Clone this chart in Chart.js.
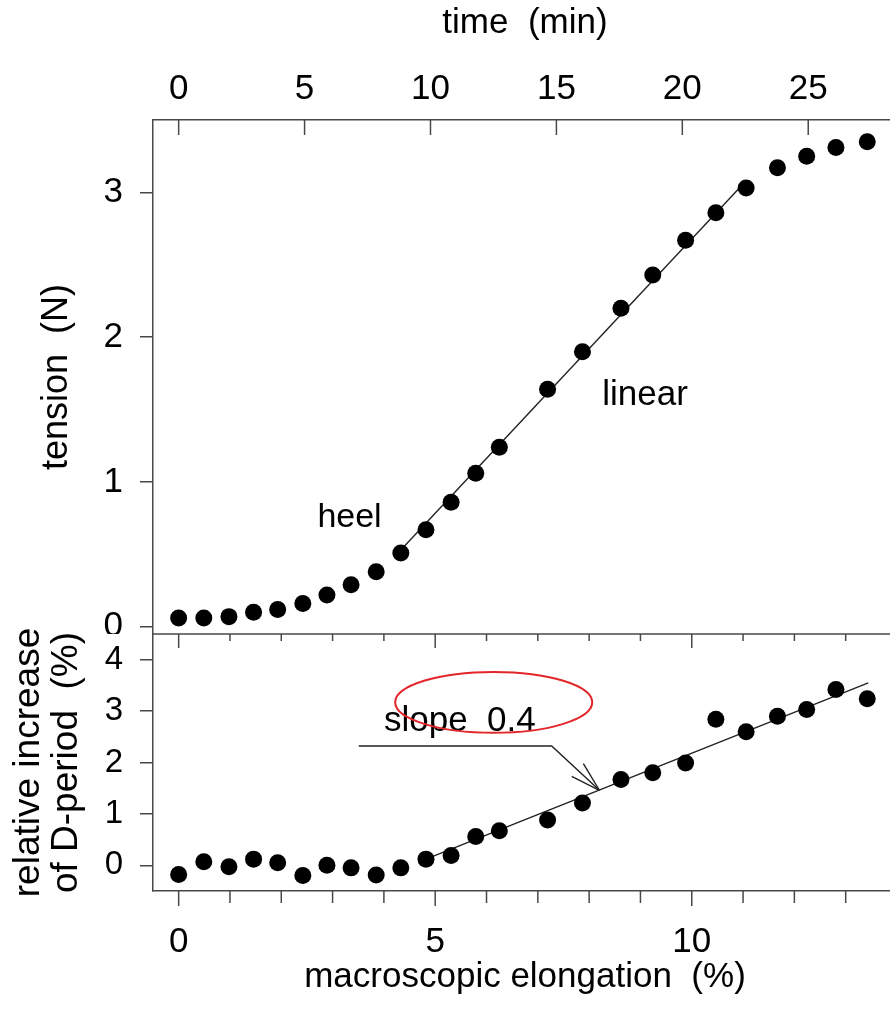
<!DOCTYPE html>
<html lang="fr">
<head>
<meta charset="utf-8">
<title>Tension et période D</title>
<script src="https://cdn.jsdelivr.net/npm/chart.js@4.4.1/dist/chart.umd.min.js"></script>
<style>
  html, body { margin: 0; padding: 0; background: #fff; overflow: hidden; }
  body { width: 890px; height: 1010px; position: relative; }
  .panneau { position: absolute; left: 0; width: 900px; }
  #haut { top: 0; height: 634px; }
  #bas { top: 620px; height: 390px; }
</style>
</head>
<body>
<div class="panneau" id="haut"><canvas id="graphHaut"></canvas></div>
<div class="panneau" id="bas"><canvas id="graphBas"></canvas></div>
<script>
// Données (allongement commun aux deux panneaux)
var elongation = [0, 0.49, 0.98, 1.46, 1.93, 2.42, 2.89, 3.36, 3.85, 4.33, 4.82, 5.31, 5.79,
                  6.25, 7.19, 7.87, 8.62, 9.24, 9.88, 10.47, 11.06, 11.67, 12.24, 12.81, 13.42];
var tension = [0.06, 0.06, 0.07, 0.10, 0.12, 0.16, 0.22, 0.29, 0.38, 0.51, 0.67, 0.86, 1.06,
               1.24, 1.64, 1.90, 2.20, 2.43, 2.67, 2.86, 3.03, 3.17, 3.25, 3.31, 3.35];
var periodeD = [-0.18, 0.07, -0.03, 0.12, 0.05, -0.20, 0.00, -0.05, -0.19, -0.05, 0.12, 0.19, 0.56,
                0.67, 0.88, 1.21, 1.67, 1.80, 1.99, 2.84, 2.60, 2.90, 3.03, 3.42, 3.24];

// Droites d'ajustement (extrémités)
var ajustTensionX = [4.33, 11.06];
var ajustTensionY = [0.53, 3.08];
var ajustPeriodeX = [4.82, 13.44];
var ajustPeriodeY = [0.12, 3.55];

// Graduations
var ticksTemps = [0, 5, 10, 15, 20, 25];
var ticksTension = [0, 1, 2, 3];
var ticksPeriode = [0, 1, 2, 3, 4];
var ticksElong = [0, 5, 10];
var pctParMinute = 0.4908;   // allongement (%) par minute

var couleurAxe = '#484848';
var police = "'Liberation Sans', Arial, sans-serif";

function points(xs, ys) {
    return xs.map((x, i) => ({x: x, y: ys[i]}));
}

// Enlève les marges automatiques que Chart.js ajoute pour les étiquettes
function sansMarge(s) {
    s.paddingTop = 0; s.paddingBottom = 0; s.paddingLeft = 0; s.paddingRight = 0;
}

//Petits traits de graduation vers l'intérieur / l'extérieur
var graduations = {
    id: 'graduations',
    afterDraw: function(chart) {
        var reglages = chart.options.plugins.graduations;
        if (!reglages) return;
        var ctx = chart.ctx;
        var zone = chart.chartArea;
        ctx.save();
        ctx.strokeStyle = couleurAxe;
        ctx.lineWidth = 1.5;
        reglages.forEach(r => {
            var echelle = chart.scales[r.axe];
            var y0 = r.bord == 'haut' ? zone.top : zone.bottom;
            if (r.ligne) {
                ctx.beginPath();
                ctx.moveTo(zone.left, y0);
                ctx.lineTo(zone.right, y0);
                ctx.stroke();
            }
            echelle.ticks.forEach(t => {
                var px = echelle.getPixelForValue(t.value);
                var l = (t.value % 5 == 0) ? r.grand : r.petit;
                ctx.beginPath();
                ctx.moveTo(px, y0);
                ctx.lineTo(px, y0 + l);
                ctx.stroke();
            });
        });
        ctx.restore();
    }
};

// Textes, flèche et ellipse rouge
var notes = {
    id: 'notes',
    afterDatasetsDraw: function(chart) {
        var liste = chart.options.plugins.notes;
        if (!liste) return;
        var ctx = chart.ctx;
        var sx = chart.scales.x, sy = chart.scales.y;
        ctx.save();
        liste.forEach(n => {
            if (n.texte) {
                ctx.font = n.taille + 'px ' + police;
                ctx.fillStyle = '#000';
                ctx.textAlign = 'center';
                ctx.textBaseline = 'alphabetic';
                ctx.fillText(n.texte, sx.getPixelForValue(n.x), sy.getPixelForValue(n.y));
            }
            if (n.trace) {
                var pts = n.trace.map(p => [sx.getPixelForValue(p[0]), sy.getPixelForValue(p[1])]);
                ctx.strokeStyle = '#222';
                ctx.lineWidth = 1.4;
                ctx.beginPath();
                pts.forEach((p, i) => i ? ctx.lineTo(p[0], p[1]) : ctx.moveTo(p[0], p[1]));
                ctx.stroke();
                // pointe ouverte
                var a = pts[pts.length - 1], b = pts[pts.length - 2];
                var ang = Math.atan2(b[1] - a[1], b[0] - a[0]);
                [-0.28, 0.28].forEach(d => {
                    ctx.beginPath();
                    ctx.moveTo(a[0], a[1]);
                    ctx.lineTo(a[0] + 31 * Math.cos(ang + d), a[1] + 31 * Math.sin(ang + d));
                    ctx.stroke();
                });
            }
            if (n.ellipse) {
                var cx = sx.getPixelForValue(n.x), cy = sy.getPixelForValue(n.y);
                var rx = Math.abs(sx.getPixelForValue(n.x + n.rx) - cx);
                var ry = Math.abs(sy.getPixelForValue(n.y + n.ry) - cy);
                ctx.strokeStyle = '#e3262a';
                ctx.lineWidth = 2;
                ctx.beginPath();
                ctx.ellipse(cx, cy, rx, ry, 0, 0, 2 * Math.PI);
                ctx.stroke();
            }
        });
        ctx.restore();
    }
};

document.addEventListener("DOMContentLoaded", function() {

    Chart.defaults.font.family = police;
    Chart.defaults.color = '#000';

    var nuage = {
        xAxisID: 'x', yAxisID: 'y',
        pointRadius: 8.5, pointBackgroundColor: '#000', pointBorderWidth: 0,
        showLine: false, order: 0
    };
    var droite = {
        xAxisID: 'x', yAxisID: 'y',
        showLine: true, pointRadius: 0, borderColor: '#222', borderWidth: 1.4,
        fill: false, order: 1
    };

    // Panneau du haut : tension
    new Chart(document.getElementById('graphHaut'), {
        type: 'scatter',
        data: {
            datasets: [
                Object.assign({data: points(elongation, tension)}, nuage),
                Object.assign({data: points(ajustTensionX, ajustTensionY)}, droite)
            ]
        },
        options: {
            responsive: true, maintainAspectRatio: false, animation: false, events: [],
            layout: {autoPadding: false, padding: {left: 0, right: 3, top: 0, bottom: 0}},
            plugins: {
                legend: {display: false},
                tooltip: {enabled: false},
                graduations: [{axe: 'xt', bord: 'haut', grand: 15, petit: 15}],
                notes: [
                    {texte: 'heel', x: 3.33, y: 0.69, taille: 34},
                    {texte: 'linear', x: 9.09, y: 1.53, taille: 35}
                ]
            },
            scales: {
                x: {type: 'linear', display: false, min: -0.5, max: 14},
                xt: {
                    type: 'linear', position: 'top',
                    min: -0.5 / pctParMinute, max: 14 / pctParMinute,
                    afterBuildTicks: s => { s.ticks = ticksTemps.map(v => ({value: v})); },
                    ticks: {font: {size: 35}, padding: 9.5, maxRotation: 0, autoSkip: false},
                    grid: {display: false, drawTicks: false},
                    border: {display: true, color: couleurAxe, width: 1.5},
                    title: {display: true, text: 'time  (min)', font: {size: 35, lineHeight: 1},
                            padding: {top: 6, bottom: 0}},
                    afterFit: s => { s.height = 120; sansMarge(s); }
                },
                y: {
                    min: -0.05, max: 3.5,
                    afterBuildTicks: s => { s.ticks = ticksTension.map(v => ({value: v})); },
                    ticks: {font: {size: 35}, padding: 17},
                    grid: {drawOnChartArea: false, drawTicks: true, tickLength: 13, color: couleurAxe, lineWidth: 1.5},
                    border: {display: true, color: couleurAxe, width: 1.5},
                    title: {display: true, text: 'tension  (N)', font: {size: 36, lineHeight: 1},
                            padding: {top: 39, bottom: 0}},
                    afterFit: s => { s.width = 153; sansMarge(s); }
                }
            }
        },
        plugins: [graduations, notes]
    });

    // Panneau du bas : période D
    new Chart(document.getElementById('graphBas'), {
        type: 'scatter',
        data: {
            datasets: [
                Object.assign({data: points(elongation, periodeD)}, nuage),
                Object.assign({data: points(ajustPeriodeX, ajustPeriodeY)}, droite)
            ]
        },
        options: {
            responsive: true, maintainAspectRatio: false, animation: false, events: [],
            layout: {autoPadding: false, padding: {left: 0, right: 3, top: 14, bottom: 0}},
            plugins: {
                legend: {display: false},
                tooltip: {enabled: false},
                graduations: [
                    {axe: 'x', bord: 'haut', grand: 14, petit: 7, ligne: true},
                    {axe: 'x', bord: 'bas', grand: 15, petit: 12}
                ],
                notes: [
                    {texte: 'slope  0.4', x: 5.48, y: 2.62, taille: 35},
                    {trace: [[3.51, 2.32], [7.27, 2.32], [8.2, 1.46]]},
                    {ellipse: true, x: 6.14, y: 3.17, rx: 1.92, ry: 0.593}
                ]
            },
            scales: {
                x: {
                    type: 'linear', position: 'bottom', min: -0.5, max: 14,
                    ticks: {
                        stepSize: 1, includeBounds: false, autoSkip: false, maxRotation: 0,
                        font: {size: 35}, padding: 30.5,
                        callback: v => ticksElong.includes(v) ? String(v) : ''
                    },
                    grid: {display: false, drawTicks: false},
                    border: {display: true, color: couleurAxe, width: 1.5},
                    title: {display: true, text: 'macroscopic elongation  (%)', font: {size: 35, lineHeight: 1},
                            padding: {top: 0, bottom: 15.5}},
                    afterFit: s => { s.height = 119; sansMarge(s); }
                },
                y: {
                    min: -0.5, max: 4.5,
                    afterBuildTicks: s => { s.ticks = ticksPeriode.map(v => ({value: v})); },
                    ticks: {font: {size: 33}, padding: 17},
                    grid: {drawOnChartArea: false, drawTicks: true, tickLength: 13, color: couleurAxe, lineWidth: 1.5},
                    border: {display: true, color: couleurAxe, width: 1.5},
                    title: {display: true, text: ['relative increase', 'of D-period  (%)'],
                            font: {size: 37, lineHeight: '38px'}, padding: {top: 10, bottom: 0}},
                    afterFit: s => { s.width = 153; sansMarge(s); }
                }
            }
        },
        plugins: [graduations, notes]
    });
});
</script>
</body>
</html>
